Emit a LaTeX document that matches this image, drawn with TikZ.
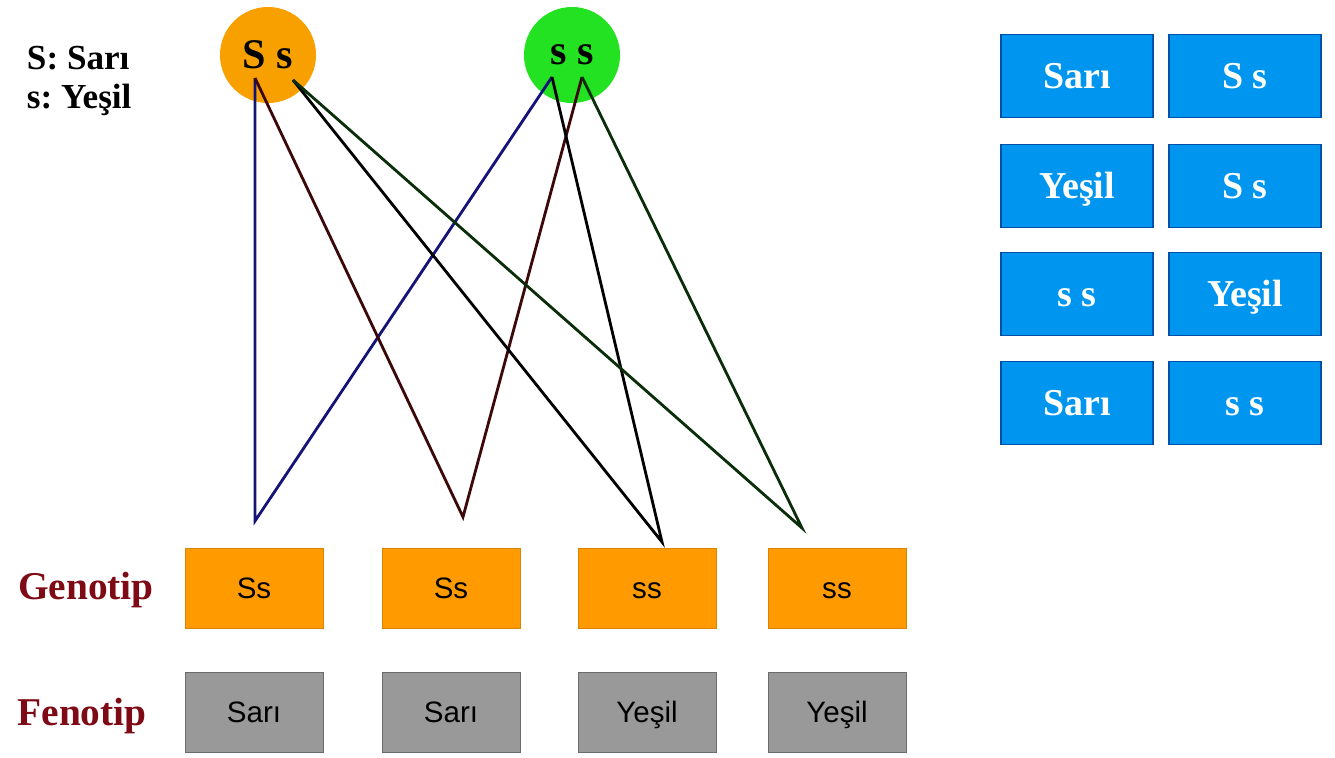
\documentclass[tikz,border=0pt]{standalone}
\usepackage{fontspec}
\setmainfont{Liberation Serif}
\newfontfamily\boxfont{Liberation Sans}
\usetikzlibrary{positioning}

\definecolor{parentorange}{RGB}{247,160,0}
\definecolor{parentgreen}{RGB}{34,226,34}
\definecolor{genoorange}{RGB}{255,155,0}
\definecolor{fenogray}{RGB}{153,153,153}
\definecolor{gridblue}{RGB}{0,150,240}
\definecolor{gridedge}{RGB}{0,80,170}
\definecolor{labelred}{RGB}{125,10,20}
\definecolor{navyline}{RGB}{20,20,120}
\definecolor{maroonline}{RGB}{60,8,8}
\definecolor{darkgreenline}{RGB}{10,45,10}

\frenchspacing

\begin{document}
\begin{tikzpicture}[x=0.025cm,y=-0.025cm,
    parent/.style={circle,minimum size=2.4cm,inner sep=0pt,
        font=\bfseries\fontsize{30}{32}\selectfont},
    keytext/.style={anchor=west,font=\bfseries\fontsize{25}{28}\selectfont},
    rowlabel/.style={text=labelred,font=\bfseries\fontsize{28}{30}\selectfont},
    genobox/.style={rectangle,minimum width=3.45cm,minimum height=2cm,inner sep=0pt,
        text height=15pt,text depth=0pt,
        fill=genoorange,draw=genoorange!85!black,line width=0.6pt,
        font=\boxfont\fontsize{21}{24}\selectfont},
    fenobox/.style={genobox,fill=fenogray,draw=fenogray!70!black},
    gridbox/.style={rectangle,minimum width=3.8cm,minimum height=2.075cm,inner sep=0pt,
        text height=18pt,text depth=0pt,
        fill=gridblue,draw=gridedge,line width=1pt,text=white,
        font=\bfseries\fontsize{27}{28}\selectfont},
    cross/.style={line width=2pt,line join=miter}]

    \useasboundingbox (0,0) rectangle (1335,757);

    % Key
    \node[keytext] (key1) at (22,58) {S: Sarı};
    \node[keytext] (key2) at (22,100) {s: Yeşil};

    % Parents
    \node[parent,fill=parentorange] (p1) at (268,55) {S s};
    \node[parent,fill=parentgreen] (p2) at (572,55) {s s};

    % Alleles
    \coordinate (p1S) at (255,78);
    \coordinate (p1s) at (293,80);
    \coordinate (p2a) at (552,77);
    \coordinate (p2b) at (582,77);

    % Offspring tips
    \coordinate (t1) at (255,521);
    \coordinate (t2) at (463,517);
    \coordinate (t3) at (662,542);
    \coordinate (t4) at (802,528);

    % Crossing lines
    \draw[cross,navyline] (p1S) -- (t1) -- (p2a);
    \draw[cross,maroonline] (p1S) -- (t2) -- (p2b);
    \draw[cross,black] (p1s) -- (t3) -- (p2a);
    \draw[cross,darkgreenline] (p1s) -- (t4) -- (p2b);

    % Genotype and phenotype rows
    \node[rowlabel] (genlabel) at (86,590) {Genotip};
    \node[rowlabel] (fenlabel) at (82,716) {Fenotip};
    \foreach \x/\g/\f [count=\i] in {254/Ss/Sarı, 451/Ss/Sarı, 647/ss/Yeşil, 837/ss/Yeşil} {
        \node[genobox] (g\i) at (\x,588) {\g};
        \node[fenobox] (f\i) at (\x,712) {\f};
    }

    % Grid on the right
    \foreach \y/\a/\b [count=\i] in {76/Sarı/S s, 186/Yeşil/S s, 294/s s/Yeşil, 403/Sarı/s s} {
        \node[gridbox] (l\i) at (1077,\y) {\a};
        \node[gridbox] (r\i) at (1245,\y) {\b};
    }

\end{tikzpicture}
\end{document}
